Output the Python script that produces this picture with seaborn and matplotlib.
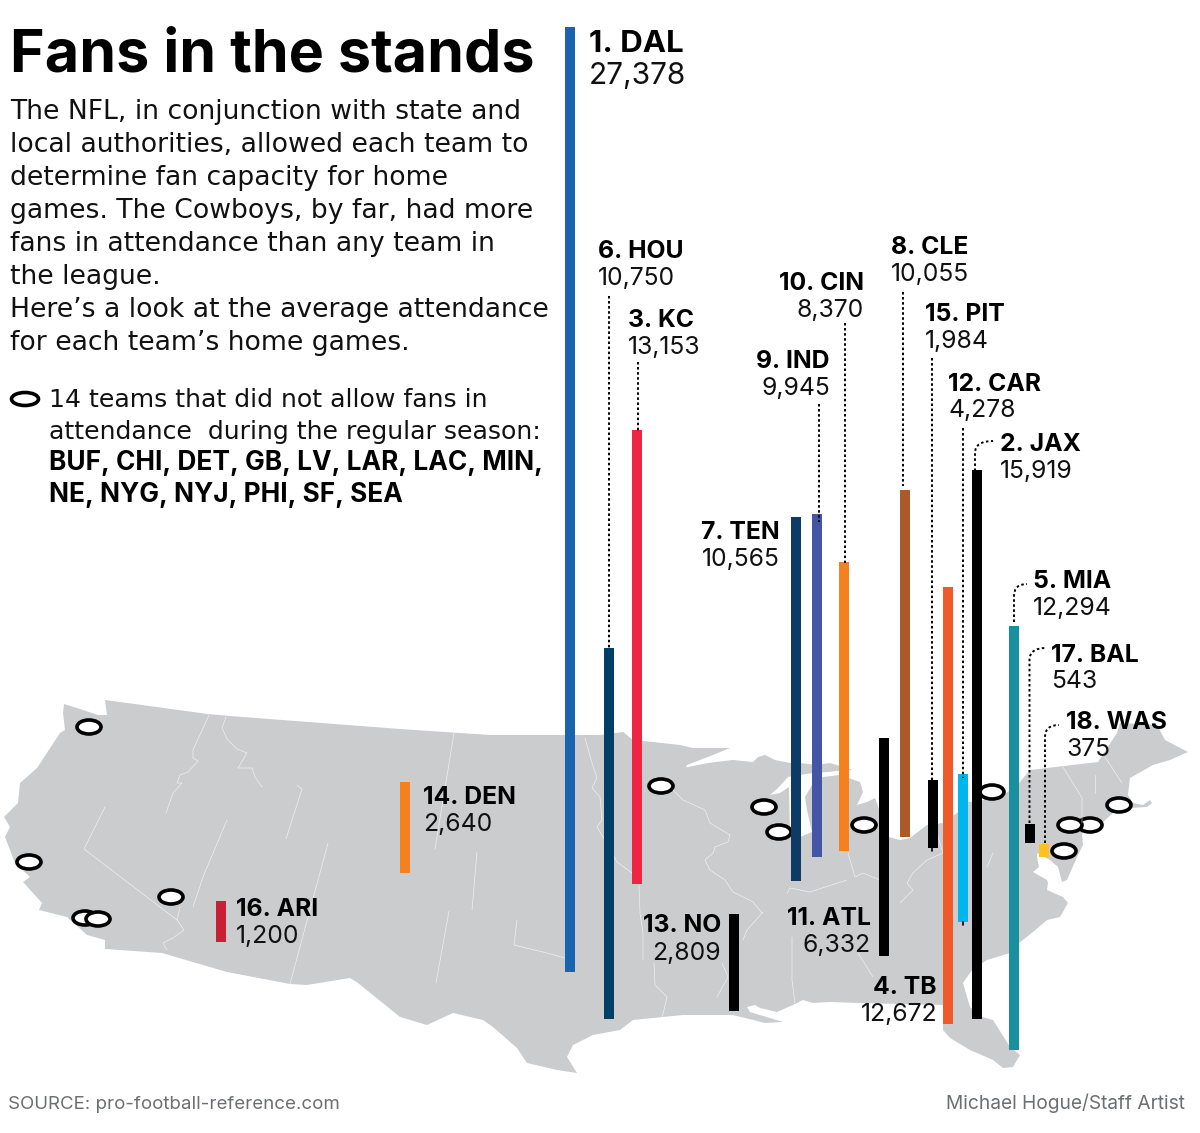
import matplotlib
matplotlib.use("Agg")
import matplotlib.pyplot as plt
import seaborn as sns
from matplotlib.patches import Ellipse, PathPatch, Polygon
from matplotlib.path import Path

# Average home attendance, 2020 season
teams = ["DAL", "JAX", "KC", "TB", "MIA", "HOU", "TEN", "CLE", "IND", "CIN",
         "ATL", "CAR", "NO", "DEN", "PIT", "ARI", "BAL", "WAS"]
attendance = [27378, 15919, 13153, 12672, 12294, 10750, 10565, 10055, 9945,
              8370, 6332, 4278, 2809, 2640, 1984, 1200, 543, 375]
colors = ["#1a63ae", "#000000", "#ee2543", "#f05a28", "#1a909f", "#003f66",
          "#0e3a66", "#ab5a28", "#4455a6", "#f58020", "#000000", "#00b6ec",
          "#000000", "#f58020", "#000000", "#c91f34", "#000000", "#ffc020"]

# Where each bar stands on the page (pixels)
bar_x = [570, 976.5, 637, 948, 1014, 609, 796, 905, 817, 844,
         884, 962.5, 734, 404.5, 932.5, 220.5, 1029.5, 1044]
bar_base = [972, 1019, 884, 1024, 1050, 1019, 881, 837, 857, 851,
            956, 922, 1011, 873, 848, 942, 843, 857]

# pixel position of each label: x, name baseline, value baseline, alignment
label_pos = {
    "DAL": (589, 52, 84, "left"), "HOU": (598, 258, 285, "left"),
    "KC": (628, 327, 354, "left"), "CIN": (864, 290, 317, "right"),
    "IND": (830, 368, 395, "right"), "CLE": (891, 254, 281, "left"),
    "PIT": (925, 321, 348, "left"), "CAR": (948, 391, 417, "left"),
    "JAX": (1000, 451, 478, "left"), "TEN": (780, 539, 566, "right"),
    "MIA": (1033, 588, 615, "left"), "BAL": (1051, 662, 688, "left"),
    "WAS": (1066, 729, 756, "left"), "DEN": (423, 804, 831, "left"),
    "ARI": (236, 916, 943, "left"), "NO": (721, 932, 960, "right"),
    "ATL": (871, 925, 952, "right"), "TB": (937, 994, 1021, "right"),
}

# Teams with no fans
ring_teams = ["SEA", "SF", "LAR", "LAC", "LV", "MIN", "GB", "CHI", "DET",
              "BUF", "NYJ", "NYG", "PHI", "NE"]
ring_x = [89, 29, 85, 98, 171, 661, 764, 779, 864, 992, 1090, 1070, 1064, 1119]
ring_y = [727, 862, 918, 919, 897, 786, 807, 832, 825, 792, 825, 825, 851, 805]

title = "Fans in the stands"
intro = ["The NFL, in conjunction with state and",
         "local authorities, allowed each team to",
         "determine fan capacity for home",
         "games. The Cowboys, by far, had more",
         "fans in attendance than any team in",
         "the league.",
         "Here\u2019s a look at the average attendance",
         "for each team\u2019s home games."]
key_lines = ["14 teams that did not allow fans in",
             "attendance  during the regular season:"]
key_teams = ["BUF, CHI, DET, GB, LV, LAR, LAC, MIN,",
             "NE, NYG, NYJ, PHI, SF, SEA"]
source = "SOURCE: pro-football-reference.com"
credit = "Michael Hogue/Staff Artist"

us_outline = [
    (64, 704), (80, 709), (98, 715), (107, 715), (105, 700), (208, 714), (230, 716),
    (400, 729), (490, 735), (600, 735), (623, 732), (633, 740), (653, 742), (680, 745),
    (693, 748), (730, 748), (713, 755), (687, 765), (682, 777), (683, 768), (708, 763),
    (733, 760), (753, 762), (758, 757), (765, 755), (775, 760), (790, 763), (800, 763),
    (817, 765), (830, 763), (853, 770), (837, 771), (828, 772), (813, 773), (800, 775),
    (788, 777), (778, 788), (770, 795), (780, 793), (789, 787), (790, 837), (800, 837),
    (812, 832), (807, 810), (805, 797), (812, 785), (823, 777), (840, 775), (860, 782),
    (863, 792), (857, 805), (867, 802), (875, 798), (889, 837), (900, 840), (910, 838),
    (927, 825), (943, 823), (957, 813), (968, 802), (1000, 798), (1019, 783), (1030, 770),
    (1047, 768), (1098, 762), (1117, 733), (1120, 723), (1157, 725), (1165, 740),
    (1188, 752), (1170, 760), (1153, 765), (1130, 778), (1128, 795), (1133, 803),
    (1143, 805), (1150, 800), (1152, 803), (1147, 807), (1130, 808), (1113, 813),
    (1103, 822), (1083, 830), (1082, 835), (1083, 845), (1077, 857), (1067, 880),
    (1062, 882), (1058, 867), (1050, 860), (1037, 853), (1037, 857), (1039, 867),
    (1033, 872), (1047, 880), (1048, 883), (1047, 890), (1063, 897), (1068, 903),
    (1060, 917), (1047, 920), (1033, 932), (1019, 943), (1010, 953), (987, 960),
    (972, 970), (963, 983), (970, 1007), (982, 1017), (993, 1020), (1010, 1047),
    (1020, 1055), (1013, 1067), (1003, 1068), (993, 1060), (970, 1050), (950, 1038),
    (943, 1030), (943, 1005), (860, 1003), (830, 1002), (813, 1003), (803, 1000),
    (793, 1005), (777, 1012), (760, 1008), (755, 1005), (747, 1007), (750, 1012),
    (783, 1022), (765, 1023), (733, 1015), (683, 1015), (663, 1017), (633, 1020),
    (620, 1030), (593, 1035), (573, 1045), (567, 1057), (577, 1073), (557, 1070),
    (527, 1063), (517, 1048), (493, 1027), (483, 1020), (453, 1013), (427, 1025),
    (400, 1017), (358, 983), (350, 978), (307, 985), (290, 984), (227, 972), (162, 953),
    (105, 949), (105, 940), (87, 935), (67, 917), (39, 910), (42, 903), (23, 882),
    (30, 877), (15, 863), (5, 837), (10, 827), (4, 817), (18, 803), (20, 783), (37, 768),
    (60, 733), (65, 730), (63, 713),
]

state_lines = [
    [(209, 715), (193, 750), (193, 758), (198, 761), (188, 772), (180, 775), (177, 783),
     (182, 783), (173, 793), (166, 813)],
    [(226, 717), (222, 728), (227, 739), (237, 749), (247, 753), (238, 768), (252, 768),
     (255, 777), (262, 787)],
    [(297, 785), (302, 789), (286, 839)],
    [(105, 807), (84, 849), (177, 920)],
    [(180, 907), (177, 920), (184, 930), (173, 938), (163, 943), (167, 950)],
    [(227, 820), (203, 877), (193, 907)],
    [(328, 843), (290, 984)],
    [(454, 733), (435, 849)],
    [(477, 852), (472, 910)],
    [(449, 911), (436, 983)],
    [(517, 920), (514, 945), (547, 953), (565, 958)],
    [(585, 738), (592, 763), (597, 778), (592, 788), (600, 797), (602, 820), (597, 827),
     (603, 837), (617, 862), (632, 873)],
    [(639, 885), (640, 913), (643, 933), (643, 960)],
    [(654, 963), (655, 985), (667, 997), (662, 1018)],
    [(673, 790), (683, 800), (705, 810), (710, 823), (730, 835), (728, 842), (715, 847),
     (713, 853), (705, 860), (710, 870), (725, 880), (733, 892), (753, 902), (762, 913)],
    [(763, 912), (747, 930), (743, 940)],
    [(722, 963), (728, 977), (717, 997)],
    [(792, 937), (792, 980), (795, 1003)],
    [(858, 953), (873, 977)],
    [(848, 853), (855, 877), (863, 873), (880, 880)],
    [(787, 893), (790, 888), (810, 892), (847, 880)],
    [(937, 833), (943, 853), (927, 860), (913, 873), (907, 883), (913, 890), (900, 903)],
    [(1063, 767), (1082, 798), (1082, 823)],
    [(1095, 775), (1095, 793)],
    [(1105, 757), (1122, 783)],
    [(993, 853), (987, 867)],
]

# straight leaders: x, top, bottom
dotted_leaders = [(609, 296, 648), (637.5, 362, 431), (818.5, 404, 522), (845, 323, 563),
                  (903, 292, 486), (932, 358, 780), (963, 428, 778)]
# curved leaders: bar end, corner, label end
curved_leaders = [((975, 471), (975, 441), (993, 441)),
                  ((1014, 622), (1014, 584), (1027, 584)),
                  ((1029.5, 823), (1029.5, 648), (1046, 648)),
                  ((1045, 843), (1045, 725), (1059, 725))]

FAN_SCALE = 0.0345  # pixels per fan
WIDTH, HEIGHT = 1200, 1133
BODY_FONT = ["DejaVu Sans"]
DOTS = (0, (1.3, 1.3))

sns.set_theme(style="white")
plt.rcParams["font.family"] = ["Inter", "DejaVu Sans"]

fig = plt.figure(figsize=(WIDTH / 100, HEIGHT / 100), dpi=100)
map_ax = fig.add_axes([0, 0, 1, 1], zorder=1)
bar_ax = fig.add_axes([0, 0, 1, 1], zorder=2)
text_ax = fig.add_axes([0, 0, 1, 1], zorder=3)

# Map layer
map_ax.add_patch(Polygon(us_outline, closed=True, fc="#cbccce", ec="none"))
for line in state_lines:
    map_ax.plot(*zip(*line), color="white", lw=0.5, solid_joinstyle="round", alpha=0.7)
for x, y in zip(ring_x, ring_y):
    map_ax.add_patch(Ellipse((x, y), 24, 14, fc="white", ec="black", lw=2.6))

# Bars: heights in fans, on a y axis that runs from the page bottom
for team, value, color, x, base in zip(teams, attendance, colors, bar_x, bar_base):
    sns.barplot(x=[x], y=[value], color=color, saturation=1, width=10, orient="x",
                native_scale=True, bottom=(HEIGHT - base) / FAN_SCALE, linewidth=0,
                ax=bar_ax)
bar_ax.set_xlim(0, WIDTH)
bar_ax.set_ylim(0, HEIGHT / FAN_SCALE)

# Leaders
for x, top, bottom in dotted_leaders:
    text_ax.plot([x, x], [top, bottom], color="black", lw=1.4, ls=DOTS)
text_ax.plot([932, 932], [848, 851], color="black", lw=1.2)
text_ax.plot([963, 963], [922, 925], color="black", lw=1.2)
for start, corner, end in curved_leaders:
    path = Path([start, (start[0], corner[1] + 12), corner, end],
                [Path.MOVETO, Path.LINETO, Path.CURVE3, Path.CURVE3])
    text_ax.add_patch(PathPatch(path, fc="none", ec="black", lw=1.4, ls=DOTS))

# Labels
for rank, (team, value) in enumerate(zip(teams, attendance), start=1):
    x, name_y, value_y, align = label_pos[team]
    big = team == "DAL"
    text_ax.text(x, name_y, f"{rank}. {team}", ha=align, va="baseline", color="black",
                 fontsize=22.5 if big else 17.8, fontweight="bold")
    text_ax.text(x, value_y, f"{value:,}", ha=align, va="baseline", color="#111111",
                 fontsize=21.5 if big else 17.8, fontweight="normal")

# Text block
text_ax.text(10, 71, title, fontsize=42.6, fontweight="bold", color="black", va="baseline")
for i, line in enumerate(intro):
    text_ax.text(10, 119 + i * 33, line, fontsize=19.2, color="#111111", va="baseline",
                 family=BODY_FONT)
text_ax.add_patch(Ellipse((25, 399), 27, 13, fc="white", ec="black", lw=2.6))
for i, line in enumerate(key_lines):
    text_ax.text(49, 407 + i * 31.5, line, fontsize=18.1, color="#111111", va="baseline",
                 family=BODY_FONT)
for i, line in enumerate(key_teams):
    text_ax.text(49, 470 + i * 31.5, line, fontsize=18.9, fontweight="bold", color="black",
                 va="baseline")
text_ax.text(8, 1109, source, fontsize=13.45, color="#6d6e71", va="baseline")
text_ax.text(1185, 1109, credit, fontsize=13.8, color="#6d6e71", ha="right", va="baseline")

for ax in (map_ax, text_ax):
    ax.set_xlim(0, WIDTH)
    ax.set_ylim(HEIGHT, 0)
for ax in (map_ax, bar_ax, text_ax):
    ax.axis("off")
    ax.patch.set_alpha(0)

fig.savefig("out.png", dpi=100, facecolor="white")
plt.close(fig)
